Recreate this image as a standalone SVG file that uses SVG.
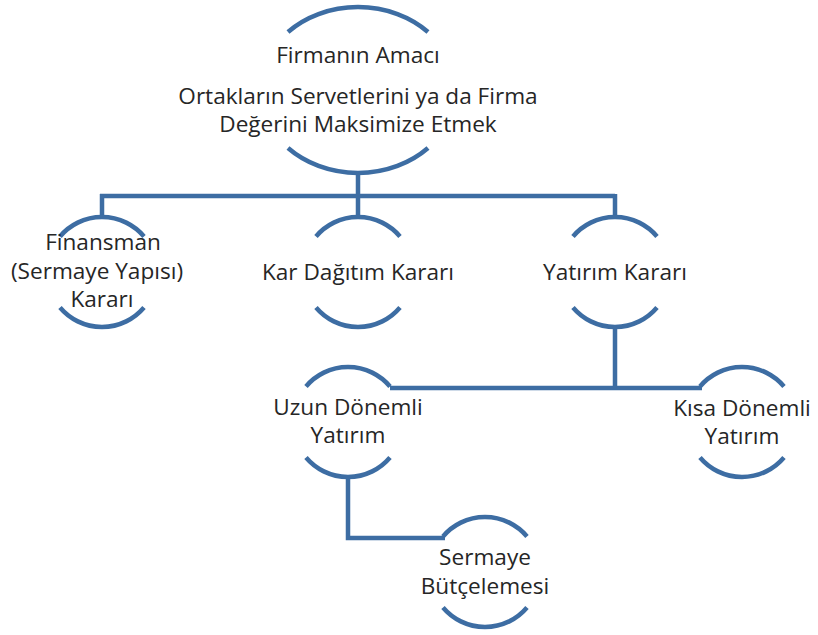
<svg xmlns="http://www.w3.org/2000/svg" width="818" height="635" viewBox="0 0 818 635">
<style>
.arc{fill:none;stroke:#3d6da3;stroke-width:4.5}
.con{fill:none;stroke:#3d6da3;stroke-width:4.5}
text{font-family:"Open Sans","Liberation Sans",sans-serif;font-size:22.6px;fill:#262626;text-anchor:middle}
</style>
<rect width="818" height="635" fill="#ffffff"/>
<g id="connectors">
<path class="con" d="M358,173 V196 M100,196 H615 M102,194 V217 M358,196 V217 M615,194 V217"/>
<path class="con" d="M615,327 V388 M390,388 H702"/>
<path class="con" d="M348,477 V538 H445"/>
</g>
<g id="node-amac">
<path class="arc" d="M288,32 A98,83 0 0 1 428,32 M288,148 A98,83 0 0 0 428,148"/>
<text x="358" y="63">Firmanın Amacı</text>
<text x="358" y="104">Ortakların Servetlerini ya da Firma</text>
<text x="358" y="132">Değerini Maksimize Etmek</text>
</g>
<g id="node-finansman">
<path class="arc" d="M60,236.5 A55,55 0 0 1 144,236.5 M60,307.5 A55,55 0 0 0 144,307.5"/>
<text x="103" y="250">Finansman</text>
<text x="97" y="279">(Sermaye Yapısı)</text>
<text x="102" y="307">Kararı</text>
</g>
<g id="node-kar">
<path class="arc" d="M316,236.5 A55,55 0 0 1 400,236.5 M316,307.5 A55,55 0 0 0 400,307.5"/>
<text x="358" y="280">Kar Dağıtım Kararı</text>
</g>
<g id="node-yatirim">
<path class="arc" d="M573,236.5 A55,55 0 0 1 657,236.5 M573,307.5 A55,55 0 0 0 657,307.5"/>
<text x="615" y="280">Yatırım Kararı</text>
</g>
<g id="node-uzun">
<path class="arc" d="M306,386.5 A55,55 0 0 1 390,386.5 M306,457.5 A55,55 0 0 0 390,457.5"/>
<text x="348" y="415">Uzun Dönemli</text>
<text x="348" y="443">Yatırım</text>
</g>
<g id="node-kisa">
<path class="arc" d="M700,386.5 A55,55 0 0 1 784,386.5 M700,457.5 A55,55 0 0 0 784,457.5"/>
<text x="742" y="416">Kısa Dönemli</text>
<text x="742" y="444">Yatırım</text>
</g>
<g id="node-sermaye">
<path class="arc" d="M443,536.5 A55,55 0 0 1 527,536.5 M443,607.5 A55,55 0 0 0 527,607.5"/>
<text x="485" y="565">Sermaye</text>
<text x="485" y="594">Bütçelemesi</text>
</g>
</svg>
